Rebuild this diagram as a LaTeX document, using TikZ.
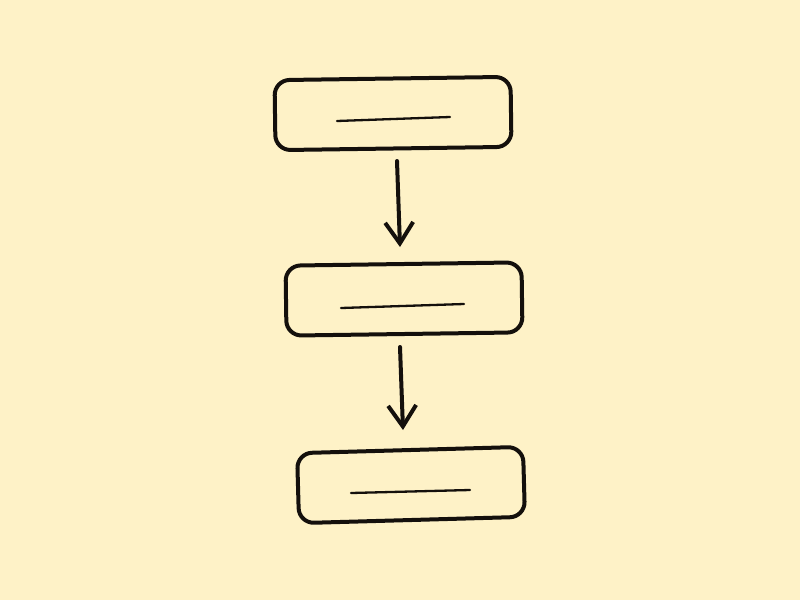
\documentclass[tikz,border=0pt]{standalone}
\usetikzlibrary{arrows.meta}
\definecolor{bgcol}{RGB}{254,242,199}
\definecolor{ink}{RGB}{20,16,12}
\tikzset{
  card/.style={draw=ink, line width=4pt, rounded corners=15pt, minimum width=236pt, minimum height=70pt, inner sep=0pt},
  placeholder/.style={draw=ink, line width=2.3pt, line cap=round},
  flow/.style={draw=ink, line width=4pt, line cap=round, -{Straight Barb[length=21pt,width=28pt,line width=4pt]}}
}
\begin{document}
\begin{tikzpicture}[x=1pt,y=-1pt]
\fill[bgcol] (0,0) rectangle (800,600);
\useasboundingbox (0,0) rectangle (800,600);
\node[card, rotate=0.8] (b1) at (393,113.5) {};
\node[card, rotate=0.8] (b2) at (404,299) {};
\node[card, minimum width=226pt, rotate=1.6] (b3) at (411,485) {};
\coordinate (l1a) at (337,121); \coordinate (l1b) at (450,117);
\coordinate (l2a) at (341,308); \coordinate (l2b) at (464,304);
\coordinate (l3a) at (351,493); \coordinate (l3b) at (470,490);
\draw[placeholder] (l1a) -- (l1b);
\draw[placeholder] (l2a) -- (l2b);
\draw[placeholder] (l3a) -- (l3b);
\coordinate (a1s) at (397,161); \coordinate (a1e) at (400,247);
\coordinate (a2s) at (400,347); \coordinate (a2e) at (403,430);
\draw[flow] (a1s) -- (a1e);
\draw[flow] (a2s) -- (a2e);
\end{tikzpicture}
\end{document}
